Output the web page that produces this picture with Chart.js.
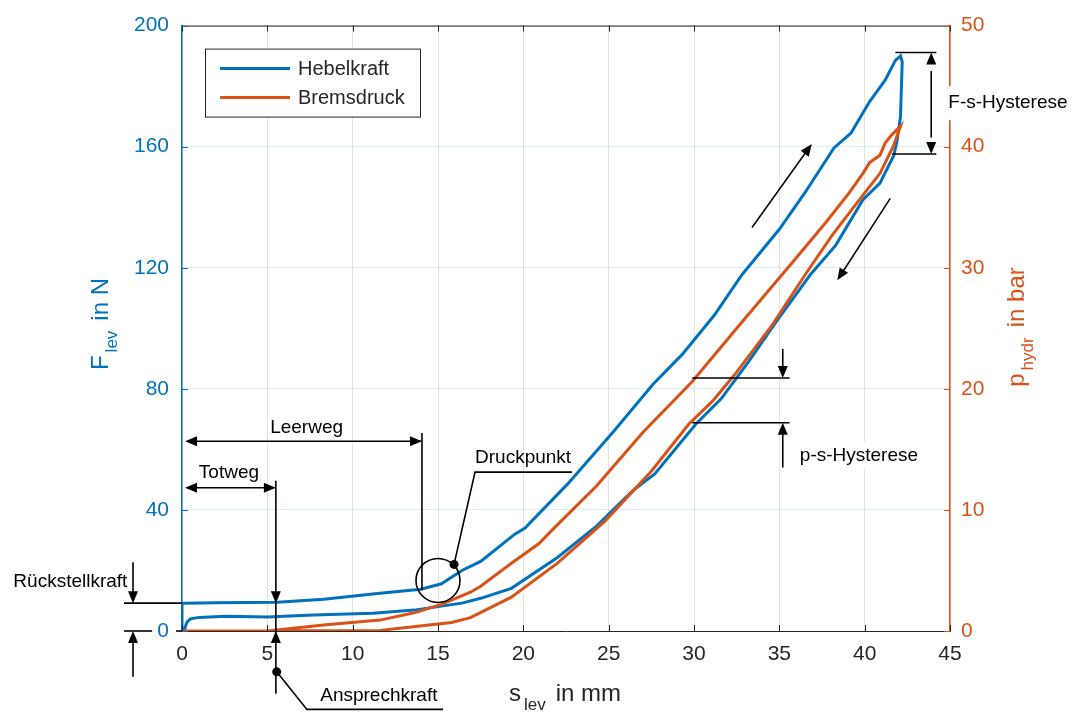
<!DOCTYPE html>
<html>
<head>
<meta charset="utf-8">
<script src="https://cdn.jsdelivr.net/npm/chart.js@4.4.1/dist/chart.umd.min.js"></script>
<style>
  html, body { margin: 0; padding: 0; background: #fff; }
</style>
</head>
<body>
<canvas id="chart" width="1073" height="713"></canvas>
<script>
// Hebelkraft loop: loading branch, drop at the end of travel, unloading branch
const hebelS = [0, 0, 2, 5.6, 8.3, 11.6, 14, 15.2, 16.4, 17.5, 19.5, 20.1, 22.6, 25.3, 27.6,
  29.3, 31.2, 32.8, 35, 36.5, 38.2, 39.2, 40.3, 41.2, 41.8, 42.1, 42.2, 42.1, 41.9, 41.7,
  40.9, 39.9, 38.3, 36.8, 34.8, 33.2, 31.6, 30.1, 27.7, 26.4, 24.2, 22, 19.3, 17.5, 16.4, 13.6,
  11.2, 7.7, 5, 2.6, 1.0, 0.5, 0.3, 0.2, 0.15];
const hebelF = [0, 9.2, 9.3, 9.5, 10.5, 12.5, 13.8, 15.6, 20, 23, 32, 34, 48.6, 66, 81.5,
  91.3, 104.4, 117.6, 132.7, 144.8, 159.6, 164.5, 175, 182, 188.5, 190, 188, 170, 162, 157,
  148, 142.5, 127.4, 117.6, 102, 89, 76.8, 68.3, 51.9, 46.3, 34.2, 24.3, 14.1, 10.8, 9.2, 6.9,
  5.9, 5.3, 4.6, 4.9, 4.5, 4.0, 3.0, 1.5, 0];

// Bremsdruck loop in bar
const bremsS = [0, 5, 8.3, 11.6, 13.6, 15.2, 16.9, 17.5, 19.3, 20.9, 21.8, 24.3, 27, 29.9, 32.8,
  35.8, 37.7, 39.1, 39.9, 40.3, 40.9, 41.2, 41.6, 42.1,
  41.7, 40.9, 39.9, 38.1, 36.5, 34.6, 32.4, 31.1, 29.7, 27.5, 24.8, 22, 19.3, 16.9, 15.8, 11.6, 0];
const bremsP = [0, 0, 0.5, 0.9, 1.5, 2.2, 3.2, 3.7, 5.6, 7.2, 8.5, 12, 16.4, 20.6, 25.5,
  30.5, 33.7, 36.2, 37.8, 38.7, 39.3, 40.3, 41, 41.7,
  40.1, 37.8, 36, 32.7, 29.4, 25.3, 21.2, 19, 17.1, 13.2, 9.1, 5.6, 2.8, 1.1, 0.7, 0.05, 0];

const sTicks = [0, 5, 10, 15, 20, 25, 30, 35, 40, 45];
const fTicks = [0, 40, 80, 120, 160, 200];
const pTicks = [0, 10, 20, 30, 40, 50];

const BLUE = '#0072BD';
const ORANGE = '#D95319';
const DARK = '#262626';
const FONT = '"Liberation Sans", Arial, Helvetica, sans-serif';

const pairs = (xs, ys) => xs.map((v, i) => ({ x: v, y: ys[i] }));

function head(ctx, x0, y0, x1, y1) {
  const a = Math.atan2(y1 - y0, x1 - x0);
  const len = 12, w = 5;
  ctx.beginPath();
  ctx.moveTo(x1, y1);
  ctx.lineTo(x1 - len * Math.cos(a) + w * Math.sin(a), y1 - len * Math.sin(a) - w * Math.cos(a));
  ctx.lineTo(x1 - len * Math.cos(a) - w * Math.sin(a), y1 - len * Math.sin(a) + w * Math.cos(a));
  ctx.closePath();
  ctx.fill();
}

function seg(ctx, pts) {
  ctx.beginPath();
  ctx.moveTo(pts[0][0], pts[0][1]);
  for (let i = 1; i < pts.length; i++) ctx.lineTo(pts[i][0], pts[i][1]);
  ctx.stroke();
}

// label with a subscript: main + sub + rest, centred on (cx, cy)
function subLabel(ctx, main, sub, rest, cx, cy, rot, color) {
  ctx.save();
  ctx.translate(cx, cy);
  ctx.rotate(rot);
  ctx.fillStyle = color;
  ctx.textBaseline = 'alphabetic';
  ctx.textAlign = 'left';
  const big = '24px ' + FONT, small = '17px ' + FONT;
  ctx.font = big;
  const w1 = ctx.measureText(main).width;
  const w3 = ctx.measureText(rest).width;
  ctx.font = small;
  const w2 = ctx.measureText(sub).width;
  const g1 = 3, g2 = 10;
  let x0 = -(w1 + g1 + w2 + g2 + w3) / 2;
  ctx.font = big;
  ctx.fillText(main, x0, 0);
  ctx.font = small;
  ctx.fillText(sub, x0 + w1 + g1, 9);
  ctx.font = big;
  ctx.fillText(rest, x0 + w1 + g1 + w2 + g2, 0);
  ctx.restore();
}

const annotations = {
  id: 'annotations',
  afterDraw(chart) {
    const { ctx, chartArea: a, scales: { x, y, y2 } } = chart;
    const X = v => x.getPixelForValue(v);
    const F = v => y.getPixelForValue(v);
    const P = v => y2.getPixelForValue(v);

    ctx.save();
    // top frame line and inward ticks
    ctx.strokeStyle = DARK;
    ctx.lineWidth = 1;
    seg(ctx, [[a.left, a.top + 0.5], [a.right, a.top + 0.5]]);
    sTicks.forEach(v => {
      const px = Math.round(X(v)) + 0.5;
      seg(ctx, [[px, a.bottom], [px, a.bottom - 6]]);
      seg(ctx, [[px, a.top], [px, a.top + 6]]);
    });
    ctx.strokeStyle = BLUE;
    fTicks.forEach(v => {
      const py = Math.round(F(v)) + 0.5;
      seg(ctx, [[a.left, py], [a.left + 6, py]]);
    });
    ctx.strokeStyle = ORANGE;
    pTicks.forEach(v => {
      const py = Math.round(P(v)) + 0.5;
      seg(ctx, [[a.right, py], [a.right - 6, py]]);
    });

    ctx.strokeStyle = '#000';
    ctx.fillStyle = '#000';
    ctx.lineWidth = 1.6;
    ctx.font = '19px ' + FONT;
    ctx.textBaseline = 'middle';

    // Rückstellkraft
    seg(ctx, [[X(-3.4), F(9.2)], [X(0), F(9.2)]]);
    seg(ctx, [[X(-3.4), F(0)], [X(-1.75), F(0)]]);
    seg(ctx, [[X(-0.35), F(0)], [X(0), F(0)]]);
    seg(ctx, [[X(-2.87), F(22.7)], [X(-2.87), F(9.2) - 6]]);
    head(ctx, X(-2.87), F(22.7), X(-2.87), F(9.2));
    seg(ctx, [[X(-2.87), F(-15.1)], [X(-2.87), F(0) + 6]]);
    head(ctx, X(-2.87), F(-15.1), X(-2.87), F(0));
    ctx.textAlign = 'right';
    ctx.fillText('Rückstellkraft', X(-3.2), F(16.1));

    // Ansprechkraft and Totweg
    seg(ctx, [[X(5.5), F(49.6)], [X(5.5), F(-20.7)]]);
    head(ctx, X(5.5), F(20), X(5.5), F(9.2));
    head(ctx, X(5.5), F(-10), X(5.5), F(0));
    ctx.beginPath();
    ctx.arc(X(5.55), F(-13.5), 4.5, 0, Math.PI * 2);
    ctx.fill();
    seg(ctx, [[X(5.55), F(-13.5)], [X(7.32), F(-25.9)], [X(15.3), F(-25.9)]]);
    ctx.textAlign = 'left';
    ctx.fillText('Ansprechkraft', X(8.1), F(-21.4));

    seg(ctx, [[X(0.3), F(47.3)], [X(5.4), F(47.3)]]);
    head(ctx, X(3), F(47.3), X(0.18), F(47.3));
    head(ctx, X(3), F(47.3), X(5.5), F(47.3));
    ctx.textAlign = 'center';
    ctx.fillText('Totweg', X(2.75), F(52.4));

    // Leerweg
    seg(ctx, [[X(14.06), F(65.4)], [X(14.06), F(13.5)]]);
    seg(ctx, [[X(0.3), F(62.7)], [X(14), F(62.7)]]);
    head(ctx, X(5), F(62.7), X(0.18), F(62.7));
    head(ctx, X(5), F(62.7), X(14.06), F(62.7));
    ctx.fillText('Leerweg', X(7.3), F(67.2));

    // Druckpunkt
    ctx.beginPath();
    ctx.arc(X(15.0), F(16.7), 22, 0, Math.PI * 2);
    ctx.stroke();
    ctx.beginPath();
    ctx.arc(X(15.94), F(22), 4.5, 0, Math.PI * 2);
    ctx.fill();
    seg(ctx, [[X(15.94), F(22)], [X(17.17), F(52.5)], [X(22.85), F(52.5)]]);
    ctx.textAlign = 'left';
    ctx.fillText('Druckpunkt', X(17.17), F(57.3));

    // p-s-Hysterese
    seg(ctx, [[X(29.9), P(20.9)], [X(35.6), P(20.9)]]);
    seg(ctx, [[X(29.9), P(17.2)], [X(35.6), P(17.2)]]);
    seg(ctx, [[X(35.2), P(23.3)], [X(35.2), P(20.9) - 6]]);
    head(ctx, X(35.2), P(23.3), X(35.2), P(20.9));
    seg(ctx, [[X(35.2), P(13.5)], [X(35.2), P(17.2) + 6]]);
    head(ctx, X(35.2), P(13.5), X(35.2), P(17.2));
    let tw = ctx.measureText('p-s-Hysterese').width;
    ctx.fillStyle = '#fff';
    ctx.fillRect(X(36.2) - 2, P(14.5) - 13, tw + 4, 26);
    ctx.fillStyle = '#000';
    ctx.fillText('p-s-Hysterese', X(36.2), P(14.5));

    // F-s-Hysterese
    seg(ctx, [[X(41.8), F(191.1)], [X(44.2), F(191.1)]]);
    seg(ctx, [[X(41.6), F(157.6)], [X(44.2), F(157.6)]]);
    seg(ctx, [[X(43.9), F(185)], [X(43.9), F(163)]]);
    head(ctx, X(43.9), F(175), X(43.9), F(191.1));
    head(ctx, X(43.9), F(175), X(43.9), F(157.6));
    tw = ctx.measureText('F-s-Hysterese').width;
    ctx.fillStyle = '#fff';
    ctx.fillRect(X(44.9) - 2, F(174.4) - 17, tw + 4, 34);
    ctx.fillStyle = '#000';
    ctx.fillText('F-s-Hysterese', X(44.9), F(174.4));

    // direction arrows
    ctx.lineWidth = 1.5;
    seg(ctx, [[X(33.4), F(133.3)], [X(36.7), F(159.3)]]);
    head(ctx, X(33.4), F(133.3), X(36.9), F(160.9));
    seg(ctx, [[X(41.5), F(142.9)], [X(38.55), F(117.2)]]);
    head(ctx, X(41.5), F(142.9), X(38.4), F(115.9));

    // legend
    const lx = a.left + 23, ly = a.top + 23;
    ctx.fillStyle = '#fff';
    ctx.fillRect(lx, ly, 215, 68);
    ctx.strokeStyle = DARK;
    ctx.lineWidth = 1;
    ctx.strokeRect(lx + 0.5, ly + 0.5, 215, 68);
    ctx.font = '20px ' + FONT;
    ctx.textAlign = 'left';
    [['Hebelkraft', BLUE], ['Bremsdruck', ORANGE]].forEach(([txt, col], i) => {
      const yy = ly + 20 + i * 29;
      ctx.strokeStyle = col;
      ctx.lineWidth = 3;
      seg(ctx, [[lx + 15, yy], [lx + 85, yy]]);
      ctx.fillStyle = DARK;
      ctx.fillText(txt, lx + 93, yy + 1);
    });

    // axis titles
    subLabel(ctx, 's', 'lev', 'in mm', 565, 701, 0, DARK);
    subLabel(ctx, 'F', 'lev', 'in N', 108, 324, -Math.PI / 2, BLUE);
    subLabel(ctx, 'p', 'hydr', 'in bar', 1024, 327, -Math.PI / 2, ORANGE);
    ctx.restore();
  }
};

new Chart(document.getElementById('chart'), {
  type: 'scatter',
  data: {
    datasets: [
      {
        label: 'Bremsdruck',
        data: pairs(bremsS, bremsP),
        yAxisID: 'y2',
        showLine: true,
        borderColor: ORANGE,
        borderWidth: 3,
        pointRadius: 0,
        tension: 0,
        order: 0
      },
      {
        label: 'Hebelkraft',
        data: pairs(hebelS, hebelF),
        yAxisID: 'y',
        showLine: true,
        borderColor: BLUE,
        borderWidth: 3,
        pointRadius: 0,
        tension: 0,
        order: 1
      }
    ]
  },
  plugins: [annotations],
  options: {
    responsive: false,
    animation: false,
    layout: { padding: { top: 22, left: 0, right: 0, bottom: 0 } },
    plugins: {
      legend: { display: false },
      tooltip: { enabled: false }
    },
    scales: {
      x: {
        type: 'linear',
        min: 0, max: 45,
        afterBuildTicks: s => { s.ticks = sTicks.map(v => ({ value: v })); },
        afterFit: s => { s.height = 82; },
        grid: { color: 'rgba(38,38,38,0.13)', drawTicks: false },
        border: { color: DARK, width: 1 },
        ticks: { color: DARK, font: { size: 21, family: FONT }, padding: 11, maxRotation: 0 }
      },
      y: {
        type: 'linear',
        position: 'left',
        min: 0, max: 200,
        afterBuildTicks: s => { s.ticks = fTicks.map(v => ({ value: v })); },
        afterFit: s => { s.width = 182; },
        grid: { color: 'rgba(0,114,189,0.13)', drawTicks: false },
        border: { color: BLUE, width: 1.5 },
        ticks: { color: BLUE, font: { size: 21, family: FONT }, padding: 13 }
      },
      y2: {
        type: 'linear',
        position: 'right',
        min: 0, max: 50,
        afterBuildTicks: s => { s.ticks = pTicks.map(v => ({ value: v })); },
        afterFit: s => { s.width = 123; },
        grid: { drawOnChartArea: false, drawTicks: false },
        border: { color: ORANGE, width: 1.5 },
        ticks: { color: ORANGE, font: { size: 21, family: FONT }, padding: 11 }
      }
    }
  }
});
</script>
</body>
</html>
